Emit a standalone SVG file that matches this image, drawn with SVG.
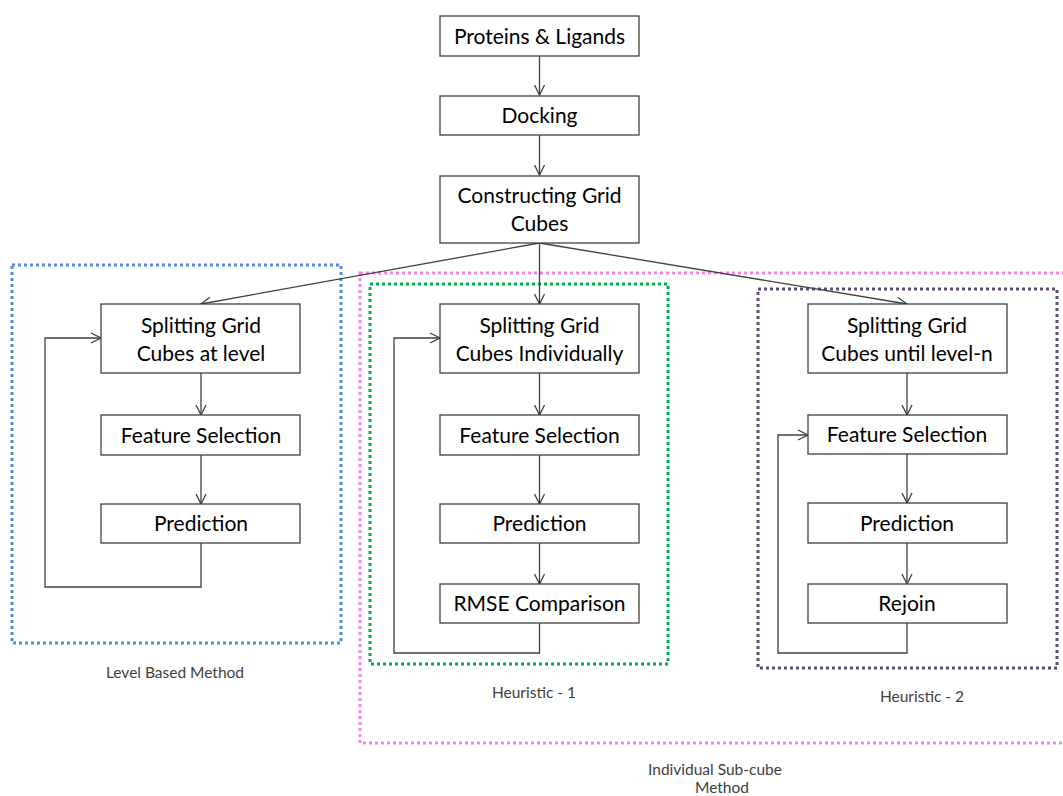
<svg xmlns="http://www.w3.org/2000/svg" width="1063" height="796" viewBox="0 0 1063 796">
<defs>
<style>
.box{fill:#fff;stroke:#404040;stroke-width:1.3}
.t{font-family:Lato,"Liberation Sans",sans-serif;font-size:21px;fill:#000;text-anchor:middle}
.lbl{font-family:Lato,"Liberation Sans",sans-serif;font-size:15.5px;fill:#404040;text-anchor:middle}
.c{fill:none;stroke:#404040;stroke-width:1.3}
.grp{fill:none;stroke-width:3;stroke-dasharray:3 3}
</style>
<marker id="ah" viewBox="0 0 12 12" refX="11" refY="6" markerWidth="12" markerHeight="12" markerUnits="userSpaceOnUse" orient="auto">
<path d="M1,1 L11,6 L1,11" fill="none" stroke="#404040" stroke-width="1.3"/>
</marker>
</defs>
<rect width="1063" height="796" fill="#fff"/>
<g id="groups">
<rect x="12" y="265" width="329" height="378" class="grp" stroke="#558ED5"/>
<rect x="360" y="273" width="710" height="470" class="grp" stroke="#F484E6"/>
<rect x="370" y="284" width="298" height="380" class="grp" stroke="#00B050"/>
<rect x="758" y="289" width="299" height="379" class="grp" stroke="#604A7B"/>
</g>
<g id="connectors">
<line x1="539.5" y1="56" x2="539.5" y2="95" class="c" marker-end="url(#ah)"/>
<line x1="539.5" y1="135" x2="539.5" y2="175" class="c" marker-end="url(#ah)"/>
<line x1="539.5" y1="243" x2="201" y2="304" class="c" marker-end="url(#ah)"/>
<line x1="539.5" y1="243" x2="539.5" y2="304" class="c" marker-end="url(#ah)"/>
<line x1="539.5" y1="243" x2="907" y2="304" class="c" marker-end="url(#ah)"/>
<line x1="201" y1="373" x2="201" y2="415" class="c" marker-end="url(#ah)"/>
<line x1="201" y1="455" x2="201" y2="504" class="c" marker-end="url(#ah)"/>
<polyline points="201,543 201,587 45,587 45,338 101,338" class="c" marker-end="url(#ah)"/>
<line x1="539.5" y1="373" x2="539.5" y2="415" class="c" marker-end="url(#ah)"/>
<line x1="539.5" y1="455" x2="539.5" y2="504" class="c" marker-end="url(#ah)"/>
<line x1="539.5" y1="543" x2="539.5" y2="584" class="c" marker-end="url(#ah)"/>
<polyline points="539.5,623 539.5,653 394,653 394,338 440,338" class="c" marker-end="url(#ah)"/>
<line x1="907" y1="373" x2="907" y2="415" class="c" marker-end="url(#ah)"/>
<line x1="907" y1="454" x2="907" y2="503" class="c" marker-end="url(#ah)"/>
<line x1="907" y1="543" x2="907" y2="584" class="c" marker-end="url(#ah)"/>
<polyline points="907,623 907,653 778,653 778,435 808,435" class="c" marker-end="url(#ah)"/>
</g>
<g id="n-proteins"><rect x="440" y="16" width="199" height="40" class="box"/><text x="539.5" y="44" class="t">Proteins &amp; Ligands</text></g>
<g id="n-docking"><rect x="440" y="96" width="199" height="39" class="box"/><text x="539.5" y="123" class="t">Docking</text></g>
<g id="n-constructing"><rect x="440" y="176" width="199" height="67" class="box"/><text x="539.5" y="203" class="t">Constructing Grid</text><text x="539.5" y="231" class="t">Cubes</text></g>
<g id="n-split-level"><rect x="101" y="304" width="199" height="69" class="box"/><text x="201" y="333" class="t">Splitting Grid</text><text x="201" y="361" class="t">Cubes at level</text></g>
<g id="n-fs-level"><rect x="101" y="415" width="199" height="40" class="box"/><text x="201" y="443" class="t">Feature Selection</text></g>
<g id="n-pred-level"><rect x="101" y="504" width="199" height="39" class="box"/><text x="201" y="531" class="t">Prediction</text></g>
<g id="n-split-ind"><rect x="440" y="304" width="199" height="69" class="box"/><text x="539.5" y="333" class="t">Splitting Grid</text><text x="539.5" y="361" class="t">Cubes Individually</text></g>
<g id="n-fs-ind"><rect x="440" y="415" width="199" height="40" class="box"/><text x="539.5" y="443" class="t">Feature Selection</text></g>
<g id="n-pred-ind"><rect x="440" y="504" width="199" height="39" class="box"/><text x="539.5" y="531" class="t">Prediction</text></g>
<g id="n-rmse"><rect x="440" y="584" width="199" height="39" class="box"/><text x="539.5" y="611" class="t">RMSE Comparison</text></g>
<g id="n-split-n"><rect x="808" y="304" width="199" height="69" class="box"/><text x="907" y="333" class="t">Splitting Grid</text><text x="907" y="361" class="t">Cubes until level-n</text></g>
<g id="n-fs-n"><rect x="808" y="415" width="199" height="39" class="box"/><text x="907" y="442" class="t">Feature Selection</text></g>
<g id="n-pred-n"><rect x="808" y="503" width="199" height="40" class="box"/><text x="907" y="531" class="t">Prediction</text></g>
<g id="n-rejoin"><rect x="808" y="584" width="199" height="39" class="box"/><text x="907" y="611" class="t">Rejoin</text></g>
<g id="labels">
<text x="175" y="678" class="lbl">Level Based Method</text>
<text x="534" y="698" class="lbl">Heuristic - 1</text>
<text x="922" y="702" class="lbl">Heuristic - 2</text>
<text x="715" y="775" class="lbl">Individual Sub-cube</text>
<text x="722" y="793" class="lbl">Method</text>
</g>
</svg>
